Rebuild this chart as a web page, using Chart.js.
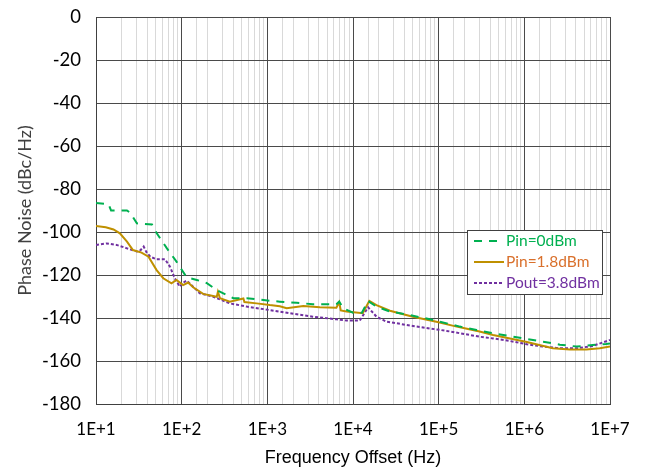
<!DOCTYPE html>
<html>
<head>
<meta charset="utf-8">
<title>Phase Noise</title>
<script src="https://cdn.jsdelivr.net/npm/chart.js@4.4.0/dist/chart.umd.min.js"></script>
<style>
  html, body { margin: 0; padding: 0; background: #fff; }
  #wrap { width: 645px; height: 470px; }
</style>
</head>
<body>
<div id="wrap"><canvas id="chart" width="645" height="470"></canvas></div>
<script>
// Pin=0dBm
var pin0Freq = [10, 14, 15, 23, 25, 30, 45, 51, 67, 87, 114, 150, 195, 257, 400, 575, 1070, 1400, 2200, 3400, 6400, 6900, 7700, 10000, 12700, 15000, 18800, 27000, 42000, 79000, 177000, 277000, 432000, 680000, 1070000, 1660000, 2600000, 4100000, 6300000, 9000000, 10000000];
var pin0Val = [-86.5, -87, -90, -90, -91, -96, -96.5, -100.5, -107.5, -113.8, -121, -122.3, -123.7, -127, -130.8, -130.8, -132, -132.4, -132.9, -133.6, -133.6, -132.4, -135.5, -137.5, -137.5, -132.1, -134.7, -137, -138.3, -140.6, -144, -145.6, -147.1, -148.4, -149.8, -151, -152.4, -153.3, -152.6, -152.1, -151.8];
// Pin=1.8dBm
var pin18Freq = [10, 13, 16, 19, 23, 27, 34, 41, 51, 61, 76, 87, 104, 119, 136, 178, 257, 265, 280, 365, 525, 540, 750, 1070, 1400, 1680, 2630, 4100, 6400, 6900, 7200, 8400, 13000, 15500, 18800, 27000, 50000, 94000, 162000, 300000, 432000, 1070000, 2150000, 3400000, 5300000, 7600000, 10000000];
var pin18Val = [-97.2, -97.8, -98.8, -100.6, -104.5, -108.4, -109.6, -111.5, -117.7, -121.5, -123.9, -122.3, -124.7, -123.5, -125.7, -128.8, -130.1, -127.8, -130.8, -132.4, -130.9, -132.6, -133.2, -134, -134.5, -135.5, -134.4, -135, -135.2, -132.7, -136.5, -137, -137.8, -132, -134, -136.6, -139.4, -141.7, -144, -146.3, -147.9, -151.2, -154.1, -154.7, -154.7, -154.1, -153.3];
// Pout=3.8dBm
var pout38Freq = [10, 13.3, 17.4, 23, 30, 33, 36, 39, 43, 51, 64, 73, 83, 95, 105, 114, 136, 163, 234, 365, 575, 1070, 1830, 3400, 6400, 8400, 12000, 15000, 18800, 24600, 50000, 124000, 300000, 432000, 680000, 1070000, 1660000, 2600000, 4100000, 6300000, 10000000];
var pout38Val = [-106, -105.3, -106, -107.6, -109.1, -108.5, -106.8, -109.5, -111.5, -112.7, -112.7, -116.1, -121.5, -125.4, -123.5, -122.6, -125.4, -128.5, -130.1, -133.2, -134.7, -136.3, -137.8, -139.4, -140.6, -141.2, -141.2, -135, -139.4, -141.7, -143.7, -146, -148.7, -149.5, -150.7, -152.2, -153.3, -154.1, -154.1, -153, -150.2];

var seriesNames = ['Pin=0dBm', 'Pin=1.8dBm', 'Pout=3.8dBm'];
var xTitle = 'Frequency Offset (Hz)';
var yTitle = 'Phase Noise (dBc/Hz)';

function pts(f, v) {
  return f.map(function (x, i) { return { x: x, y: v[i] }; });
}
function isDecade(v) {
  var l = Math.log10(v);
  return Math.abs(l - Math.round(l)) < 1e-9;
}

var legendStyle = [
  { line: '#00B050', text: '#00B050', dash: [8, 7] },
  { line: '#BF9000', text: '#D9702C', dash: [] },
  { line: '#7030A0', text: '#7030A0', dash: [3, 2] }
];

var boxLegend = {
  id: 'boxLegend',
  afterDraw: function (chart) {
    var c = chart.ctx, a = chart.chartArea;
    var x0 = a.right - 143, y0 = a.top + 213, w = 135, h = 64;
    c.save();
    c.fillStyle = '#fff';
    c.fillRect(x0, y0, w, h);
    c.strokeStyle = '#404040';
    c.lineWidth = 1;
    c.strokeRect(x0 + 0.5, y0 + 0.5, w, h);
    c.font = '15.5px Lato, "Noto Sans", sans-serif';
    c.textBaseline = 'middle';
    chart.data.datasets.forEach(function (ds, i) {
      var y = y0 + 11 + i * 21;
      c.strokeStyle = legendStyle[i].line;
      c.lineWidth = 2;
      c.setLineDash(legendStyle[i].dash);
      c.beginPath();
      c.moveTo(x0 + 7, y);
      c.lineTo(x0 + 37, y);
      c.stroke();
      c.setLineDash([]);
      c.fillStyle = legendStyle[i].text;
      c.fillText(ds.label, x0 + 39, y);
    });
    c.restore();
  }
};

var ctx = document.getElementById('chart').getContext('2d');
var chart = new Chart(ctx, {
  type: 'line',
  data: {
    datasets: [
      { label: seriesNames[0], data: pts(pin0Freq, pin0Val), borderColor: '#00B050', borderWidth: 2, borderDash: [8, 7], pointRadius: 0, fill: false, tension: 0 },
      { label: seriesNames[1], data: pts(pin18Freq, pin18Val), borderColor: '#BF9000', borderWidth: 2, pointRadius: 0, fill: false, tension: 0 },
      { label: seriesNames[2], data: pts(pout38Freq, pout38Val), borderColor: '#7030A0', borderWidth: 2, borderDash: [3, 2], pointRadius: 0, fill: false, tension: 0 }
    ]
  },
  options: {
    responsive: false,
    animation: false,
    layout: { padding: { top: 17, right: 35, bottom: 0, left: 0 } },
    plugins: { legend: { display: false }, tooltip: { enabled: false } },
    scales: {
      x: {
        type: 'logarithmic',
        min: 10,
        max: 10000000,
        afterFit: function (s) { s.height = 66; s.paddingLeft = 0; s.paddingRight = 0; },
        grid: {
          drawTicks: false,
          color: function (c) { return c.tick && isDecade(c.tick.value) ? '#4a4a4a' : '#d9d9d9'; }
        },
        border: { color: '#404040' },
        ticks: {
          autoSkip: false,
          maxRotation: 0,
          padding: 15,
          color: '#000',
          font: { family: 'Lato, "Noto Sans", sans-serif', size: 17 },
          callback: function (v) {
            if (!isDecade(v)) return '';
            return '1E+' + Math.round(Math.log10(v));
          }
        },
        title: {
          display: true,
          text: xTitle,
          color: '#000',
          font: { family: '"Liberation Sans", Arial, sans-serif', size: 18 },
          padding: { top: 0, bottom: 1 }
        }
      },
      y: {
        min: -180,
        max: 0,
        afterFit: function (s) { s.width = 96; s.paddingTop = 0; s.paddingBottom = 0; },
        grid: { drawTicks: false, color: '#4a4a4a' },
        border: { color: '#404040' },
        ticks: {
          stepSize: 20,
          padding: 15,
          color: '#000',
          font: { family: 'Lato, "Noto Sans", sans-serif', size: 18.5 }
        },
        title: {
          display: true,
          text: yTitle,
          color: '#404040',
          font: { family: 'Lato, "Noto Sans", sans-serif', size: 18 },
          padding: { top: 14, bottom: 0 }
        }
      }
    }
  },
  plugins: [boxLegend]
});
</script>
</body>
</html>
